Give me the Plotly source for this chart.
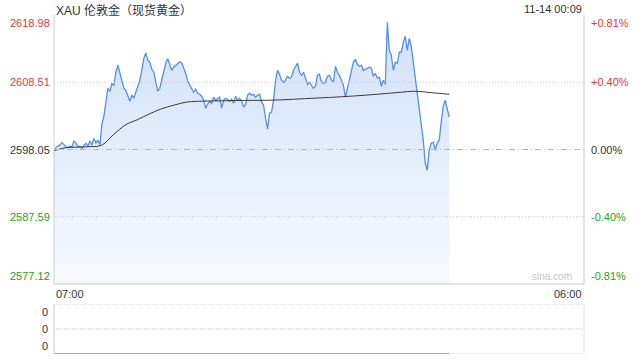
import pandas as pd
import plotly.graph_objects as go

# ---------------- data ----------------
title_text = "XAU 伦敦金（现货黄金）"
stamp_text = "11-14 00:09"
day_start = "2024-11-13 07:00"
day_end = "2024-11-14 06:00"
data_end = "2024-11-14 00:09"
x_tick_labels = ["07:00", "06:00"]

price_ticks = [2618.98, 2608.51, 2598.05, 2587.59, 2577.12]
pct_labels = ["+0.81%", "+0.40%", "0.00%", "-0.40%", "-0.81%"]
prev_close = 2598.05

price = [
    2597.84, 2598.37, 2598.57, 2598.73, 2599.15, 2598.88, 2598.46, 2598.37, 2598.57, 2598.46,
    2599.40, 2598.99, 2598.46, 2598.57, 2598.21, 2598.73, 2598.99, 2598.57, 2599.40, 2598.73,
    2599.77, 2599.08, 2599.50, 2598.73, 2601.99, 2603.23, 2605.10, 2607.58, 2607.12, 2608.28,
    2608.05, 2610.12, 2611.16, 2610.07, 2608.83, 2607.58, 2607.27, 2606.34, 2605.56, 2606.50,
    2606.03, 2606.96, 2607.90, 2608.83, 2610.38, 2612.25, 2613.02, 2611.94, 2611.63, 2610.54,
    2610.07, 2608.83, 2607.12, 2607.58, 2608.83, 2610.07, 2611.47, 2612.17, 2611.31, 2610.38,
    2610.85, 2611.16, 2611.31, 2611.70, 2611.47, 2610.69, 2609.92, 2608.67, 2608.05, 2607.43,
    2606.96, 2607.43, 2606.81, 2606.65, 2606.34, 2605.72, 2604.48, 2605.10, 2605.56, 2605.25,
    2606.19, 2605.72, 2606.03, 2606.19, 2604.48, 2605.72, 2606.03, 2605.88, 2605.56, 2605.88,
    2605.25, 2606.34, 2605.72, 2606.03, 2605.56, 2604.63, 2605.10, 2606.50, 2606.81, 2606.50,
    2606.65, 2606.19, 2606.50, 2606.65, 2605.46, 2604.94, 2602.92, 2601.21, 2603.70, 2603.86,
    2605.72, 2608.83, 2610.38, 2609.76, 2608.83, 2608.52, 2608.83, 2609.45, 2609.14, 2609.34,
    2610.38, 2611.00, 2611.47, 2610.07, 2609.60, 2610.07, 2608.98, 2608.21, 2608.52, 2608.05,
    2607.58, 2607.90, 2609.60, 2609.76, 2608.56, 2608.32, 2608.52, 2609.45, 2609.60, 2608.83,
    2608.52, 2611.00, 2610.07, 2609.60, 2608.83, 2608.05, 2606.19, 2607.58, 2609.29, 2610.38,
    2611.63, 2612.09, 2611.31, 2611.00, 2611.16, 2610.38, 2610.54, 2610.69, 2610.85, 2610.69,
    2609.45, 2609.92, 2609.14, 2609.29, 2607.90, 2608.83, 2608.21, 2617.84, 2613.49, 2612.71,
    2610.38, 2611.63, 2611.47, 2613.18, 2613.18, 2614.73, 2615.67, 2613.49, 2615.35, 2614.11,
    2611.63, 2608.52, 2606.03, 2604.17, 2601.37, 2599.50, 2595.93, 2594.84, 2597.95, 2599.04,
    2599.19, 2597.95, 2599.04, 2599.50, 2602.30, 2604.79, 2605.72, 2604.48, 2603.08,
]

avg_price = [
    2597.87, 2598.34, 2598.42, 2598.49, 2598.73, 2600.43, 2601.91, 2602.72, 2603.62, 2604.40,
    2604.94, 2605.41, 2605.56, 2605.60, 2605.63, 2605.66, 2605.69, 2605.69, 2605.72, 2605.78,
    2605.87, 2605.97, 2606.06, 2606.15, 2606.26, 2606.37, 2606.50, 2606.65, 2606.81, 2606.96,
    2607.12, 2606.99, 2606.81, 2606.65,
]

volume_ticks = [1.0, 0.5, 0.0]
volume_labels = ["0", "0", "0"]
volume = [0, 0]

# ---------------- styling ----------------
RED = "#f03535"
GREEN = "#22a322"
DARK = "#333333"
FONT = "Liberation Sans, Arial, Noto Sans CJK SC, sans-serif"
label_colors = [RED, RED, DARK, GREEN, GREEN]

t_price = pd.date_range(day_start, data_end, periods=len(price))
t_avg = pd.date_range(day_start, data_end, periods=len(avg_price))
t_vol = pd.date_range(day_start, data_end, periods=len(volume))

fig = go.Figure()
fig.add_trace(go.Scatter(
    x=t_price, y=price, mode="lines",
    line=dict(color="#5290f0", width=1.3),
    fill="tozeroy",
    fillgradient=dict(type="vertical",
                      colorscale=[[0, "rgb(247,249,254)"], [1, "rgb(208,224,250)"]],
                      start=price_ticks[-1], stop=price_ticks[0]),
    xaxis="x", yaxis="y", hoverinfo="skip",
))
fig.add_trace(go.Scatter(
    x=t_avg, y=avg_price, mode="lines", line=dict(color="#3a3a3a", width=1, shape="spline"),
    xaxis="x", yaxis="y", hoverinfo="skip",
))
fig.add_trace(go.Scatter(
    x=t_vol, y=volume, mode="lines", line=dict(color="#666666", width=1.2),
    xaxis="x2", yaxis="y2", hoverinfo="skip", cliponaxis=False,
))

XD = [54 / 640, 584 / 640]
Y1 = [1 - 284 / 360, 1 - 15 / 360]
Y2 = [1 - 354 / 360, 1 - 304 / 360]

fig.update_layout(
    width=640, height=360, margin=dict(l=0, r=0, t=0, b=0),
    paper_bgcolor="white", plot_bgcolor="rgba(0,0,0,0)", showlegend=False,
    font=dict(family=FONT, size=11, color=DARK),
    xaxis=dict(domain=XD, range=[day_start, day_end], showgrid=False, zeroline=False,
               showticklabels=False, showline=False, fixedrange=True),
    yaxis=dict(domain=Y1, range=[price_ticks[-1], price_ticks[0]], showgrid=False,
               zeroline=False, showticklabels=False, showline=False, fixedrange=True),
    xaxis2=dict(domain=XD, range=[day_start, day_end], anchor="y2", showgrid=False,
                zeroline=False, showticklabels=False, showline=False, fixedrange=True),
    yaxis2=dict(domain=Y2, range=[0, 1], anchor="x2", showgrid=False, zeroline=False,
                showticklabels=False, showline=False, fixedrange=True),
)

shapes = []
# main panel grid lines
for v in price_ticks[1:-1]:
    if v == prev_close:
        shapes.append(dict(type="line", xref="x domain", yref="y", x0=0, x1=1, y0=v, y1=v,
                           line=dict(color="#b8b8b8", width=1, dash="6px,3px,1px,3px"), layer="above"))
    else:
        shapes.append(dict(type="line", xref="x domain", yref="y", x0=0, x1=1, y0=v, y1=v,
                           line=dict(color="#c8c8c8", width=1, dash="1px,2px"), layer="above"))
# main panel borders
shapes += [
    dict(type="line", xref="x domain", yref="y domain", x0=0, x1=0, y0=0, y1=1, line=dict(color="#cccccc", width=1)),
    dict(type="line", xref="x domain", yref="y domain", x0=1, x1=1, y0=0, y1=1, line=dict(color="#cccccc", width=1)),
    dict(type="line", xref="x domain", yref="y domain", x0=0, x1=1, y0=0, y1=0, line=dict(color="#cccccc", width=1)),
]
# volume panel
for v in volume_ticks:
    shapes.append(dict(type="line", xref="x2 domain", yref="y2", x0=0, x1=1, y0=v, y1=v,
                       line=dict(color="#c8c8c8", width=1, dash="1px,1px"), layer="below"))
shapes += [
    dict(type="line", xref="x2 domain", yref="y2 domain", x0=0, x1=0, y0=0, y1=1, line=dict(color="#cccccc", width=1)),
    dict(type="line", xref="x2 domain", yref="y2 domain", x0=1, x1=1, y0=0, y1=1,
         line=dict(color="#cccccc", width=1, dash="1px,1px")),
]
fig.update_layout(shapes=shapes)

ann = []
ann.append(dict(text=title_text, xref="paper", yref="paper", x=XD[0], y=1 - 1 / 360,
                xanchor="left", yanchor="top", showarrow=False,
                font=dict(size=12, color=DARK, family="Liberation Sans, Noto Sans CJK SC, sans-serif")))
ann.append(dict(text=stamp_text, xref="paper", yref="paper", x=XD[1], y=1 - 1 / 360,
                xanchor="right", yanchor="top", showarrow=False, font=dict(size=11, color=DARK)))
n = len(price_ticks)
for i, (v, p, c) in enumerate(zip(price_ticks, pct_labels, label_colors)):
    ya = "top" if i == 0 else ("bottom" if i == n - 1 else "middle")
    ann.append(dict(text=f"{v:.2f}", xref="paper", yref="y", x=52 / 640, y=v, xanchor="right",
                    yanchor=ya, showarrow=False, font=dict(size=11, color=c)))
    ann.append(dict(text=p, xref="paper", yref="y", x=589 / 640, y=v, xanchor="left",
                    yanchor=ya, showarrow=False, font=dict(size=11, color=c)))
ann.append(dict(text=x_tick_labels[0], xref="x", yref="paper", x=day_start, y=1 - 286 / 360,
                xanchor="left", yanchor="top", showarrow=False, font=dict(size=11, color=DARK)))
ann.append(dict(text=x_tick_labels[1], xref="x", yref="paper", x=day_end, y=1 - 286 / 360,
                xanchor="right", yanchor="top", showarrow=False, font=dict(size=11, color=DARK)))
ann.append(dict(text="sina.com", xref="paper", yref="paper", x=574 / 640, y=1 - 284 / 360,
                xanchor="right", yanchor="bottom", showarrow=False, font=dict(size=10, color="#c4c4c4")))
for i, (v, lab) in enumerate(zip(volume_ticks, volume_labels)):
    ya = "top" if i == 0 else ("bottom" if i == len(volume_ticks) - 1 else "middle")
    ann.append(dict(text=lab, xref="paper", yref="y2", x=50 / 640, y=v, xanchor="right",
                    yanchor=ya, showarrow=False, font=dict(size=11, color=DARK)))
fig.update_layout(annotations=ann)

fig.write_html("out.html", config={"displayModeBar": False, "staticPlot": True})
